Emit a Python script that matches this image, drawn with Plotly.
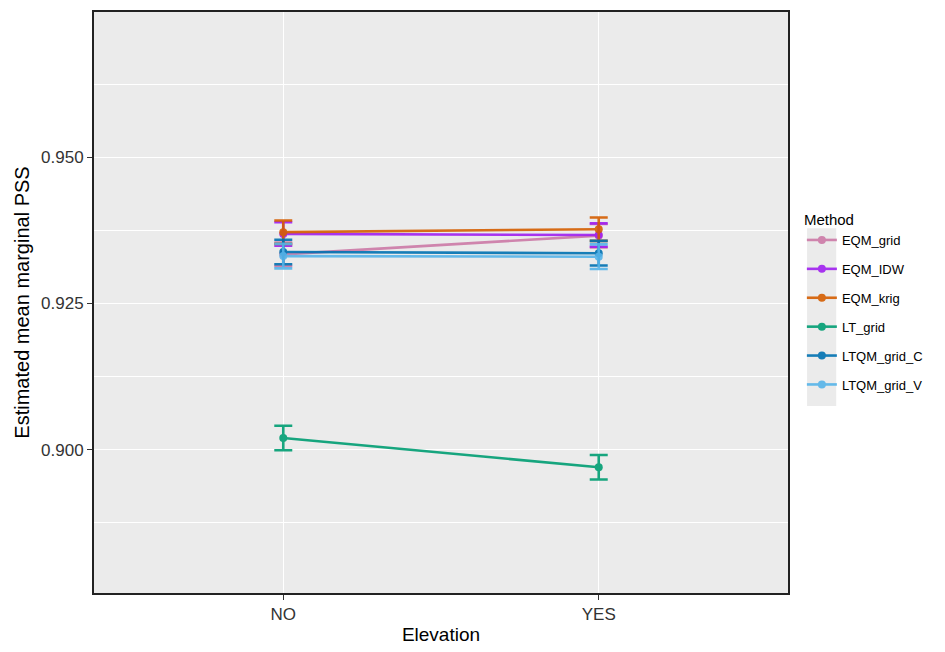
import plotly.graph_objects as go

elevation = ["NO", "YES"]
methods = ["EQM_grid", "EQM_IDW", "EQM_krig", "LT_grid", "LTQM_grid_C", "LTQM_grid_V"]
colors = ["#CC79A7", "#A020F0", "#D55E00", "#009E73", "#0072B2", "#56B4E9"]
means = {
    "EQM_grid":    [0.9334, 0.9366],
    "EQM_IDW":     [0.9369, 0.9367],
    "EQM_krig":    [0.9372, 0.9377],
    "LT_grid":     [0.9020, 0.8970],
    "LTQM_grid_C": [0.9338, 0.9336],
    "LTQM_grid_V": [0.9331, 0.9330],
}
se = {
    "EQM_grid":    [0.0020, 0.0020],
    "EQM_IDW":     [0.0020, 0.0020],
    "EQM_krig":    [0.0020, 0.0020],
    "LT_grid":     [0.0021, 0.0021],
    "LTQM_grid_C": [0.0021, 0.0021],
    "LTQM_grid_V": [0.0021, 0.0021],
}
y_ticks = [0.900, 0.925, 0.950]
y_tick_text = ["0.900", "0.925", "0.950"]

FONT = "Liberation Sans, Arial, sans-serif"
fig = go.Figure()
for m, c in zip(methods, colors):
    fig.add_trace(go.Scatter(
        x=elevation, y=means[m], name=m, mode="lines+markers",
        legendgroup=m,
        line=dict(color=c, width=2.6),
        marker=dict(color=c, size=8),
        opacity=0.9,
        error_y=dict(type="data", array=se[m], color=c, thickness=2.6, width=9),
    ))

# grey legend-key background (ggplot style)
fig.add_shape(type="rect", xref="paper", yref="paper",
              x0=1.0275, x1=1.0695, y0=0.322, y1=0.628,
              fillcolor="#EBEBEB", line=dict(width=0), layer="below")

fig.update_layout(
    width=945, height=652,
    margin=dict(l=94, r=157, t=10, b=54),
    paper_bgcolor="white",
    plot_bgcolor="#EBEBEB",
    font=dict(family=FONT, color="#4D4D4D"),
    showlegend=True,
    legend=dict(
        title=dict(text="Method", font=dict(size=15, color="black")),
        font=dict(size=13, color="black"),
        x=1.02, xanchor="left", y=0.5, yanchor="middle",
        tracegroupgap=9,
        bgcolor="rgba(0,0,0,0)",
    ),
    xaxis=dict(
        type="category", range=[-0.6, 1.6],
        showgrid=True, gridcolor="white", gridwidth=1.2,
        showline=True, linecolor="#222222", linewidth=2, mirror=True,
        ticks="outside", ticklen=5, tickcolor="#333333",
        tickfont=dict(size=17, color="#333333"),
        title=dict(text="Elevation", font=dict(size=19, color="black"), standoff=4),
        zeroline=False,
    ),
    yaxis=dict(
        range=[0.87551, 0.97483],
        tickvals=y_ticks, ticktext=y_tick_text,
        showgrid=True, gridcolor="white", gridwidth=1.2,
        minor=dict(dtick=0.025, tick0=0.8875, showgrid=True, gridcolor="white", gridwidth=0.6),
        showline=True, linecolor="#222222", linewidth=2, mirror=True,
        ticks="outside", ticklen=5, tickcolor="#333333",
        tickfont=dict(size=17, color="#333333"),
        title=dict(text="Estimated mean marginal PSS", font=dict(size=20, color="black"), standoff=6),
        zeroline=False,
    ),
)
fig.write_html("out.html")
